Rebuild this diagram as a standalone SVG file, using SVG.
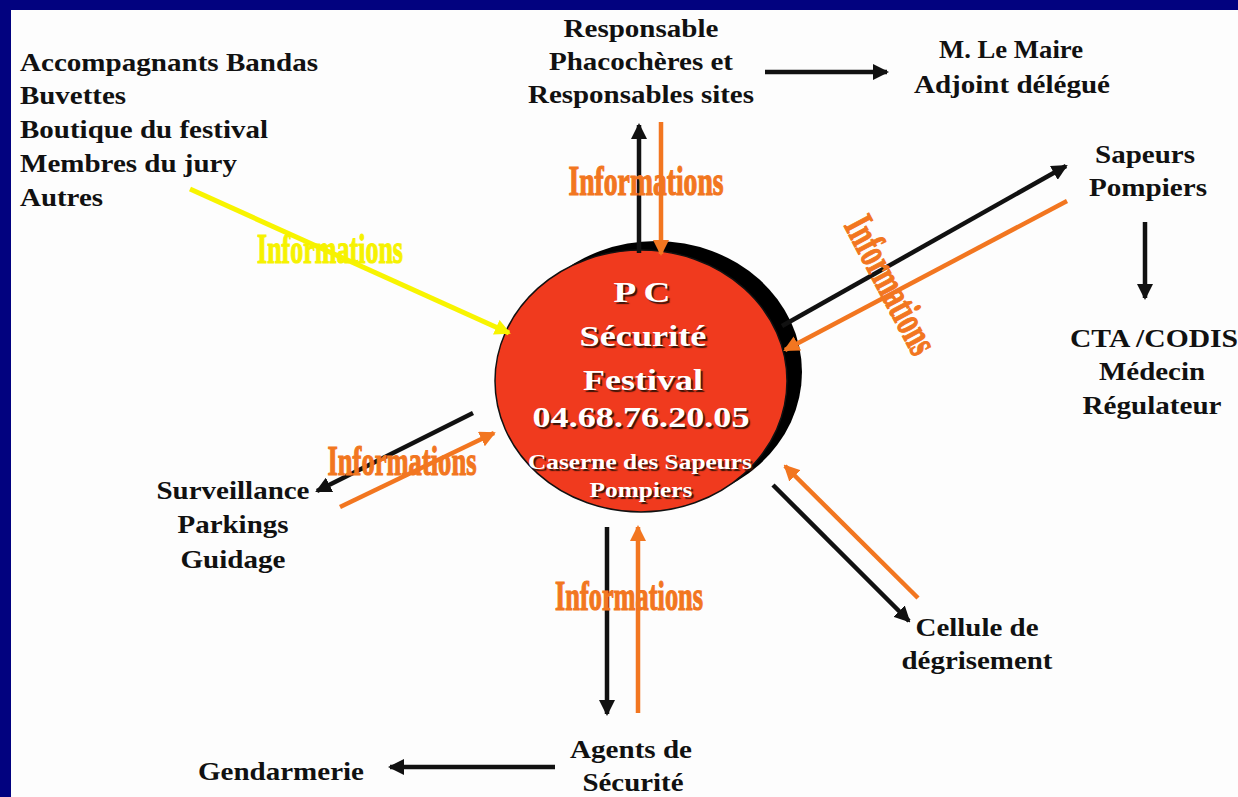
<svg xmlns="http://www.w3.org/2000/svg" width="1238" height="797" viewBox="0 0 1238 797">
<style>
.lbl{font-family:"Liberation Serif","Times New Roman",serif;font-weight:bold;font-size:26px;fill:#111;}
.mid{text-anchor:middle;}
.ctr{font-family:"Liberation Serif","Times New Roman",serif;font-weight:bold;fill:#fff;text-anchor:middle;text-shadow:1.6px 1.6px 1px #3a1408;}
.info{font-family:"Liberation Serif","Times New Roman",serif;font-weight:bold;font-size:43px;text-anchor:middle;stroke-width:1.2;}
.or{fill:#f27620;stroke:#f27620;}
.ye{fill:#f6f200;stroke:#f6f200;}
.bk{stroke:#111;stroke-width:4.5;fill:none;marker-end:url(#ab);}
.ol{stroke:#f27620;stroke-width:4.5;fill:none;marker-end:url(#ao);}
.yl{stroke:#f8f400;stroke-width:5;fill:none;marker-end:url(#ay);}
</style>
<defs>
<marker id="ab" viewBox="0 0 16 16" refX="14" refY="8" markerWidth="16" markerHeight="16" markerUnits="userSpaceOnUse" orient="auto"><path d="M0,0 L16,8 L0,16 Z" fill="#111"/></marker>
<marker id="ao" viewBox="0 0 16 16" refX="14" refY="8" markerWidth="16" markerHeight="16" markerUnits="userSpaceOnUse" orient="auto"><path d="M0,0 L16,8 L0,16 Z" fill="#f27620"/></marker>
<marker id="ay" viewBox="0 0 16 16" refX="14" refY="8" markerWidth="16" markerHeight="16" markerUnits="userSpaceOnUse" orient="auto"><path d="M0,0 L16,8 L0,16 Z" fill="#f8f400"/></marker>
</defs>
<rect x="0" y="0" width="1238" height="797" fill="#fdfdfd"/>
<rect x="0" y="0" width="1238" height="10" fill="#02027f"/>
<rect x="0" y="0" width="11" height="797" fill="#02027f"/>

<g id="pc">
<ellipse cx="656" cy="372" rx="146" ry="131" fill="#000"/>
<ellipse cx="641" cy="381" rx="146" ry="131" fill="#f03a1e" stroke="#111" stroke-width="1.5"/>
<text class="ctr" x="642" y="302" font-size="30" textLength="57" lengthAdjust="spacingAndGlyphs">P C</text>
<text class="ctr" x="643" y="346" font-size="30" textLength="127" lengthAdjust="spacingAndGlyphs">Sécurité</text>
<text class="ctr" x="643" y="390" font-size="30" textLength="120" lengthAdjust="spacingAndGlyphs">Festival</text>
<text class="ctr" x="641" y="427" font-size="30" textLength="217" lengthAdjust="spacingAndGlyphs">04.68.76.20.05</text>
<text class="ctr" x="640" y="469" font-size="21" textLength="224" lengthAdjust="spacingAndGlyphs">Caserne des Sapeurs</text>
<text class="ctr" x="641" y="497" font-size="21" textLength="103" lengthAdjust="spacingAndGlyphs">Pompiers</text>
</g>

<g id="autres">
<text class="lbl" x="20" y="71" textLength="298" lengthAdjust="spacingAndGlyphs">Accompagnants Bandas</text>
<text class="lbl" x="20" y="104" textLength="106" lengthAdjust="spacingAndGlyphs">Buvettes</text>
<text class="lbl" x="20" y="138" textLength="248" lengthAdjust="spacingAndGlyphs">Boutique du festival</text>
<text class="lbl" x="20" y="172" textLength="217" lengthAdjust="spacingAndGlyphs">Membres du jury</text>
<text class="lbl" x="20" y="206" textLength="83" lengthAdjust="spacingAndGlyphs">Autres</text>
</g>
<g id="responsable">
<text class="lbl mid" x="641" y="37" textLength="155" lengthAdjust="spacingAndGlyphs">Responsable</text>
<text class="lbl mid" x="641" y="70" textLength="184" lengthAdjust="spacingAndGlyphs">Phacochères et</text>
<text class="lbl mid" x="641" y="103" textLength="226" lengthAdjust="spacingAndGlyphs">Responsables sites</text>
</g>
<g id="maire">
<text class="lbl mid" x="1011" y="58" textLength="144" lengthAdjust="spacingAndGlyphs">M. Le Maire</text>
<text class="lbl mid" x="1012" y="93" textLength="196" lengthAdjust="spacingAndGlyphs">Adjoint délégué</text>
</g>
<g id="sapeurs">
<text class="lbl mid" x="1145" y="163" textLength="100" lengthAdjust="spacingAndGlyphs">Sapeurs</text>
<text class="lbl mid" x="1148" y="196" textLength="118" lengthAdjust="spacingAndGlyphs">Pompiers</text>
</g>
<g id="cta">
<text class="lbl mid" x="1154" y="347" textLength="168" lengthAdjust="spacingAndGlyphs">CTA /CODIS</text>
<text class="lbl mid" x="1152" y="380" textLength="106" lengthAdjust="spacingAndGlyphs">Médecin</text>
<text class="lbl mid" x="1152" y="414" textLength="139" lengthAdjust="spacingAndGlyphs">Régulateur</text>
</g>
<g id="surveillance">
<text class="lbl mid" x="233" y="499" textLength="153" lengthAdjust="spacingAndGlyphs">Surveillance</text>
<text class="lbl mid" x="233" y="533" textLength="111" lengthAdjust="spacingAndGlyphs">Parkings</text>
<text class="lbl mid" x="233" y="568" textLength="105" lengthAdjust="spacingAndGlyphs">Guidage</text>
</g>
<g id="agents">
<text class="lbl mid" x="631" y="758" textLength="122" lengthAdjust="spacingAndGlyphs">Agents de</text>
<text class="lbl mid" x="633" y="791" textLength="101" lengthAdjust="spacingAndGlyphs">Sécurité</text>
</g>
<g id="gendarmerie">
<text class="lbl mid" x="281" y="780" textLength="166" lengthAdjust="spacingAndGlyphs">Gendarmerie</text>
</g>
<g id="cellule">
<text class="lbl mid" x="977" y="636" textLength="123" lengthAdjust="spacingAndGlyphs">Cellule de</text>
<text class="lbl mid" x="977" y="669" textLength="151" lengthAdjust="spacingAndGlyphs">dégrisement</text>
</g>

<g id="connectors">
<line class="bk" x1="639" y1="253" x2="639" y2="125"/>
<line class="ol" x1="661" y1="122" x2="661" y2="254"/>
<line class="bk" x1="765" y1="72" x2="887" y2="72"/>
<line class="bk" x1="782" y1="326" x2="1066" y2="166"/>
<line class="ol" x1="1067" y1="201" x2="785" y2="350"/>
<line class="bk" x1="1145" y1="222" x2="1145" y2="298"/>
<line class="bk" x1="473" y1="413" x2="317" y2="491"/>
<line class="ol" x1="340" y1="507" x2="494" y2="433"/>
<line class="bk" x1="607" y1="527" x2="607" y2="714"/>
<line class="ol" x1="638" y1="713" x2="638" y2="527"/>
<line class="bk" x1="773" y1="485" x2="909" y2="621"/>
<line class="ol" x1="918" y1="598" x2="785" y2="466"/>
<line class="bk" x1="555" y1="767" x2="390" y2="767"/>
<line class="yl" x1="190" y1="189" x2="509" y2="333"/>
</g>

<g id="infos">
<text class="info or" x="646" y="195" textLength="155" lengthAdjust="spacingAndGlyphs">Informations</text>
<text class="info ye" x="330" y="263" textLength="146" lengthAdjust="spacingAndGlyphs">Informations</text>
<text class="info or" x="402" y="475" textLength="149" lengthAdjust="spacingAndGlyphs">Informations</text>
<text class="info or" x="629" y="610" textLength="148" lengthAdjust="spacingAndGlyphs">Informations</text>
<text class="info or" transform="translate(891,285) rotate(62)" x="0" y="14" textLength="150" lengthAdjust="spacingAndGlyphs">Informations</text>
</g>
</svg>
